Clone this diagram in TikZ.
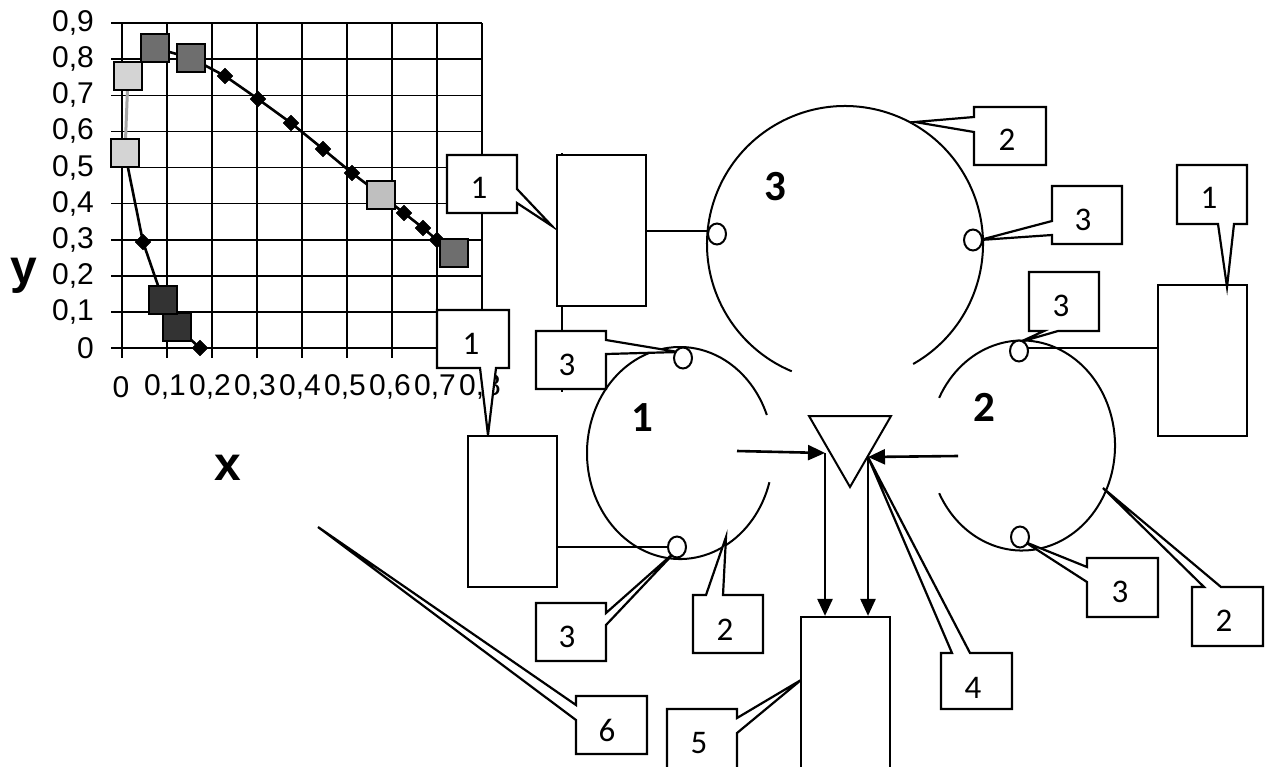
\documentclass[tikz,border=0pt]{standalone}
\usepackage{fontspec}
\setmainfont{Carlito}
\newfontfamily\arialf{Liberation Sans}
\usetikzlibrary{arrows.meta,calc,shapes.geometric}
\begin{document}
\begin{tikzpicture}[x=1pt,y=-1pt,
 grid/.style={line width=1.6pt, black},
 dline/.style={line width=2.6pt, black},
 gline/.style={line width=3pt, black!35},
 sq/.style={draw=black, line width=2.5pt, minimum size=28pt, inner sep=0pt},
 dia/.style={fill=black, draw=black, line width=0.6pt, minimum size=11pt, inner sep=0pt, rotate=45},
 ylab/.style={font=\arialf\fontsize{30}{30}\selectfont, anchor=east, inner sep=0pt},
 xlab/.style={font=\arialf\fontsize{30}{30}\selectfont, inner sep=0pt},
 axl/.style={font=\arialf\bfseries\fontsize{48}{48}\selectfont, inner sep=0pt},
 cbox/.style={draw=black, fill=white, line width=2.2pt, line join=miter},
 ctext/.style={font=\fontsize{33}{33}\selectfont, inner sep=0pt},
 big/.style={font=\bfseries\fontsize{43}{43}\selectfont, inner sep=0pt},
 blk/.style={draw=black, fill=white, line width=2.2pt, inner sep=0pt},
 ring/.style={line width=2pt, black},
 sc/.style={draw=black, fill=white, ellipse, minimum width=18pt, minimum height=21pt, inner sep=0pt, line width=2pt},
 arr/.style={line width=2.6pt, black, -{Triangle[length=17pt,width=15pt]}}
]
\useasboundingbox (0,0) rectangle (1268,766);
\fill[white] (0,0) rectangle (1268,766);

% ---------- chart grid ----------
\foreach \k in {0,...,8} \draw[grid] ({122+45*\k},23) -- ({122+45*\k},358);
\foreach \k in {0,...,9} \draw[grid] (111,{348-36.1*\k}) -- (482,{348-36.1*\k});

% y labels
\node[ylab] (yl9) at (94,23.1) {0,9};
\node[ylab] (yl8) at (94,59.2) {0,8};
\node[ylab] (yl7) at (94,95.3) {0,7};
\node[ylab] (yl6) at (94,131.4) {0,6};
\node[ylab] (yl5) at (94,167.5) {0,5};
\node[ylab] (yl4) at (94,203.6) {0,4};
\node[ylab] (yl3) at (94,239.7) {0,3};
\node[ylab] (yl2) at (94,275.8) {0,2};
\node[ylab] (yl1) at (94,311.9) {0,1};
\node[ylab] (yl0) at (94,348) {0};
% x labels
\node[xlab] (xl0) at (121,387) {0};
\node[xlab] (xl1) at (165,387) {0,1};
\node[xlab] (xl2) at (210,387) {0,2};
\node[xlab] (xl3) at (255,387) {0,3};
\node[xlab] (xl4) at (300,387) {0,4};
\node[xlab] (xl5) at (345,387) {0,5};
\node[xlab] (xl6) at (390,387) {0,6};
\node[xlab] (xl7) at (435,387) {0,7};
\node[xlab] (xl8) at (480,387) {0,8};
\node[axl] (ylet) at (24,276) {y};
\node[axl] (xlet) at (228,468) {x};

% data
\coordinate (p1) at (200,348);
\coordinate (p2) at (177,327);
\coordinate (p3) at (163,300);
\coordinate (p4) at (143,242);
\coordinate (p5) at (125,153);
\coordinate (p6) at (128,76);
\coordinate (p7) at (155,48);
\coordinate (p8) at (191,58);
\coordinate (p9) at (225,76);
\coordinate (p10) at (258,99);
\coordinate (p11) at (291,123);
\coordinate (p12) at (323,149);
\coordinate (p13) at (352,173);
\coordinate (p14) at (381,195);
\coordinate (p15) at (404,213);
\coordinate (p16) at (423,228);
\coordinate (p17) at (437,240);
\coordinate (p18) at (454,253);
\draw[dline] (p1) -- (p2) -- (p3) -- (p4) -- (p5);
\draw[gline] (p5) -- (p6);
\draw[dline] (p6) -- (p7) -- (p8) -- (p9) -- (p10) -- (p11) -- (p12) -- (p13) -- (p14) -- (p15) -- (p16) -- (p17) -- (p18);
\foreach \p in {1,4,9,10,11,12,13,15,16,17} \node[dia] (d\p) at (p\p) {};
\node[sq, fill=black!80] (q2) at (p2) {};
\node[sq, fill=black!80] (q3) at (p3) {};
\node[sq, fill=black!17] (q5) at (p5) {};
\node[sq, fill=black!17] (q6) at (p6) {};
\node[sq, fill=black!57] (q7) at (p7) {};
\node[sq, fill=black!57] (q8) at (p8) {};
\node[sq, fill=black!57] (q18) at (p18) {};
\node[sq, fill=black!25] (q14) at (p14) {};

% callouts over the chart
\coordinate (tA) at (552,226);
\draw[cbox] (447,155) -- (517,155) -- (517,189) -- (tA) -- (517,203) -- (517,213) -- (447,213) -- cycle;
\node[ctext] (cA) at (479,188) {1};
\coordinate (tB) at (488,435);
\draw[cbox] (437,310) -- (509,310) -- (509,368) -- (496,368) -- (tB) -- (480,368) -- (437,368) -- cycle;
\node[ctext] (cB) at (471,344) {1};

% ---------- scheme ----------
\draw[line width=1.6pt] (562,153) -- (562,392);
\coordinate (C3) at (845,244);
\coordinate (C1) at (680,453);
\coordinate (C2) at (1022,445.5);
\draw[ring] ($(C3)+(60.4:138)$) arc[start angle=60.4, end angle=-247.3, radius=138];
\draw[ring] ($(C1)+(16:93 and 106)$) arc[start angle=16, end angle=339, x radius=93, y radius=106];
\draw[ring] ($(C2)+(-153:93 and 105)$) arc[start angle=-153, end angle=153, x radius=93, y radius=105];
\node[big] (n3) at (775,187) {3};
\node[big] (n1) at (642,418) {1};
\node[big] (n2) at (984,407) {2};

\node[blk, minimum width=89pt, minimum height=151pt] (R3) at (601.5,230.5) {};
\node[blk, minimum width=89pt, minimum height=151pt] (R1) at (512.5,511.5) {};
\node[blk, minimum width=89pt, minimum height=151pt] (R2) at (1202.5,360.5) {};
\node[blk, minimum width=89pt, minimum height=170pt] (R5) at (845.5,702) {};

\coordinate (s3Lp) at (717,234);
\coordinate (s1Bp) at (677,547);
\coordinate (s2Tp) at (1019,351);
\draw[ring] (R3.east) -- (R3.east -| {$(s3Lp)+(-9,0)$});
\draw[ring] (R1.east |- s1Bp) -- ($(s1Bp)+(-9,0)$);
\draw[ring] ($(s2Tp)+(9,-3)$) -- (R2.west |- {$(s2Tp)+(0,-3)$});

% triangle and arrows
\coordinate (T1) at (809,416);
\coordinate (T2) at (891,416);
\coordinate (T3) at (850,487);
\draw[ring, line join=miter] (T1) -- (T2) -- (T3) -- cycle;
\coordinate (a1s) at (737,451);
\coordinate (J1) at (825,453);
\coordinate (a2s) at (958,456);
\coordinate (J2) at (868,457);
\draw[arr] (a1s) -- (J1);
\draw[arr] (a2s) -- (J2);
\draw[arr] (J1) -- (J1 |- R5.north);
\draw[arr] (J2) -- (J2 |- R5.north);

% callouts
\coordinate (tC) at (678,352);
\draw[cbox] (536,331) -- (606,331) -- (606,340) -- (tC) -- (606,354) -- (606,389) -- (536,389) -- cycle;
\node[ctext] (cC) at (567,365) {3};
\coordinate (tD) at (676,551);
\draw[cbox] (536,603) -- (606,603) -- (606,613) -- (tD) -- (606,625) -- (606,661) -- (536,661) -- cycle;
\node[ctext] (cD) at (567,637) {3};
\coordinate (tE) at (726,537);
\draw[cbox] (693,595) -- (706,595) -- (tE) -- (723,595) -- (763,595) -- (763,653) -- (693,653) -- cycle;
\node[ctext] (cE) at (725,630) {2};
\coordinate (tF) at (318,527);
\draw[cbox] (576,696) -- (647,696) -- (647,754) -- (576,754) -- (576,720) -- (tF) -- (576,705) -- cycle;
\node[ctext] (cF) at (607,730) {6};
\coordinate (tG) at (801,680);
\draw[cbox] (667,709) -- (737,709) -- (737,718) -- (tG) -- (737,733) -- (737,790) -- (667,790) -- cycle;
\node[ctext] (cG) at (699,743) {5};
\coordinate (tH) at (868,457);
\draw[cbox] (941,653) -- (952,653) -- (tH) -- (970,653) -- (1012,653) -- (1012,709) -- (941,709) -- cycle;
\node[ctext] (cH) at (973,688) {4};
\coordinate (tI) at (1025,542);
\draw[cbox] (1087,558) -- (1158,558) -- (1158,617) -- (1087,617) -- (1087,582) -- (tI) -- (1087,567) -- cycle;
\node[ctext] (cI) at (1120,592) {3};
\coordinate (tJ) at (1103,488);
\draw[cbox] (1192,587) -- (1204,587) -- (tJ) -- (1221,587) -- (1263,587) -- (1263,646) -- (1192,646) -- cycle;
\node[ctext] (cJ) at (1224,621) {2};
\coordinate (tK) at (1020,342);
\draw[cbox] (1029,272) -- (1099,272) -- (1099,331) -- (1058,331) -- (tK) -- (1044,331) -- (1029,331) -- cycle;
\node[ctext] (cK) at (1061,306) {3};
\coordinate (tL) at (1227,287);
\draw[cbox] (1177,165) -- (1247,165) -- (1247,224) -- (1234,224) -- (tL) -- (1218,224) -- (1177,224) -- cycle;
\node[ctext] (cL) at (1209,198) {1};
\coordinate (tM) at (980,240);
\draw[cbox] (1052,186) -- (1122,186) -- (1122,244) -- (1052,244) -- (1052,235) -- (tM) -- (1052,221) -- cycle;
\node[ctext] (cM) at (1083,220) {3};
\coordinate (tN) at (915,122);
\draw[cbox] (974,107) -- (1046,107) -- (1046,165) -- (974,165) -- (974,132) -- (tN) -- (974,117) -- cycle;
\node[ctext] (cN) at (1007,140) {2};

% small circles
\node[sc] (s3L) at (s3Lp) {};
\node[sc] (s3R) at (973,240) {};
\node[sc] (s1T) at (683,358) {};
\node[sc] (s1B) at (s1Bp) {};
\node[sc] (s2T) at (s2Tp) {};
\node[sc] (s2B) at (1020,537) {};
\end{tikzpicture}
\end{document}
